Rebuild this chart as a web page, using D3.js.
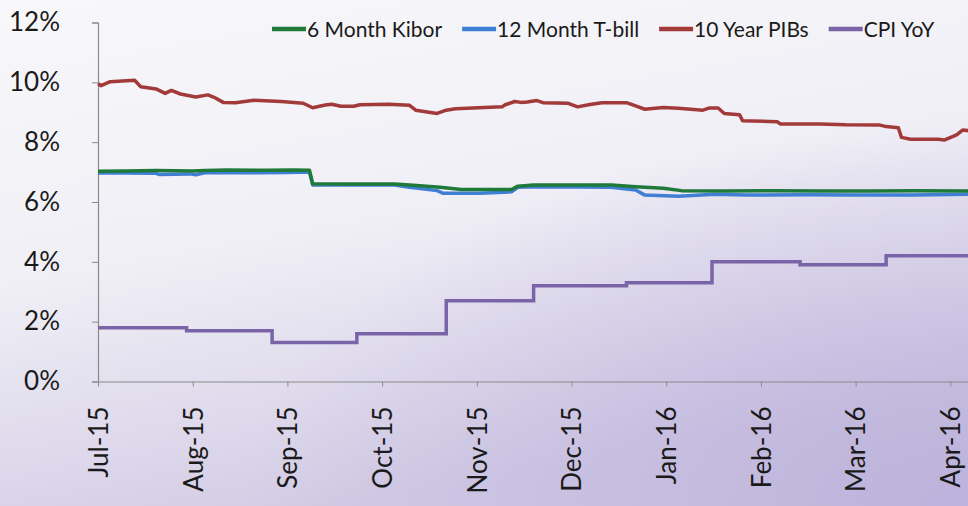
<!DOCTYPE html>
<html>
<head>
<meta charset="utf-8">
<script src="https://cdn.jsdelivr.net/npm/d3@7"></script>
<style>
  html, body { margin: 0; padding: 0; }
  body { width: 968px; height: 506px; overflow: hidden; }
  text { font-family: Lato, "Open Sans", sans-serif; fill: #1a1a1a; }
</style>
</head>
<body>
<div id="chart"></div>
<script>
const monthLabels = ["Jul-15", "Aug-15", "Sep-15", "Oct-15", "Nov-15", "Dec-15", "Jan-16", "Feb-16", "Mar-16", "Apr-16"];
const yTicks = [0, 2, 4, 6, 8, 10, 12];

const seriesNames = ["6 Month Kibor", "12 Month T-bill", "10 Year PIBs", "CPI YoY"];
const seriesColors = ["#1f7a3a", "#3f7fd4", "#a33a3a", "#7a64a8"];

// [date, percent]
const kibor6m = [
  ["2015-07-01", 7.03], ["2015-07-10", 7.04], ["2015-07-20", 7.05], ["2015-08-01", 7.04],
  ["2015-08-05", 7.05], ["2015-08-12", 7.07], ["2015-08-25", 7.06], ["2015-09-03", 7.07],
  ["2015-09-08", 7.06], ["2015-09-09", 6.61], ["2015-09-20", 6.60], ["2015-10-05", 6.60],
  ["2015-10-10", 6.57], ["2015-10-20", 6.49], ["2015-10-27", 6.42], ["2015-11-12", 6.42],
  ["2015-11-14", 6.53], ["2015-11-19", 6.57], ["2015-12-14", 6.57], ["2015-12-22", 6.51],
  ["2015-12-31", 6.46], ["2016-01-06", 6.38], ["2016-01-20", 6.37], ["2016-02-05", 6.38],
  ["2016-02-20", 6.37], ["2016-03-05", 6.37], ["2016-03-20", 6.38], ["2016-04-10", 6.37]
];

const tbill12m = [
  ["2015-07-01", 6.97], ["2015-07-10", 6.97], ["2015-07-20", 6.96], ["2015-07-21", 6.92],
  ["2015-07-31", 6.94], ["2015-08-02", 6.91], ["2015-08-05", 6.98], ["2015-08-20", 6.98],
  ["2015-09-01", 6.99], ["2015-09-08", 7.00], ["2015-09-09", 6.57], ["2015-10-05", 6.57],
  ["2015-10-10", 6.49], ["2015-10-19", 6.38], ["2015-10-21", 6.29], ["2015-11-02", 6.29],
  ["2015-11-12", 6.34], ["2015-11-14", 6.49], ["2015-11-19", 6.51], ["2015-12-14", 6.49],
  ["2015-12-22", 6.40], ["2015-12-25", 6.23], ["2016-01-05", 6.19], ["2016-01-17", 6.26],
  ["2016-01-27", 6.23], ["2016-02-15", 6.24], ["2016-03-01", 6.23], ["2016-03-20", 6.23],
  ["2016-04-10", 6.26]
];

const pib10y = [
  ["2015-07-01", 9.95], ["2015-07-02", 9.89], ["2015-07-05", 10.02], ["2015-07-13", 10.07],
  ["2015-07-15", 9.85], ["2015-07-20", 9.78], ["2015-07-23", 9.63], ["2015-07-25", 9.73],
  ["2015-07-28", 9.61], ["2015-08-02", 9.51], ["2015-08-06", 9.58], ["2015-08-08", 9.50],
  ["2015-08-11", 9.33], ["2015-08-15", 9.32], ["2015-08-21", 9.40], ["2015-08-30", 9.36],
  ["2015-09-06", 9.30], ["2015-09-09", 9.15], ["2015-09-13", 9.24], ["2015-09-15", 9.27],
  ["2015-09-18", 9.20], ["2015-09-22", 9.20], ["2015-09-24", 9.25], ["2015-10-03", 9.27],
  ["2015-10-10", 9.23], ["2015-10-12", 9.07], ["2015-10-19", 8.96], ["2015-10-22", 9.07],
  ["2015-10-25", 9.12], ["2015-11-09", 9.18], ["2015-11-10", 9.25], ["2015-11-13", 9.36],
  ["2015-11-15", 9.33], ["2015-11-17", 9.34], ["2015-11-20", 9.39], ["2015-11-22", 9.32],
  ["2015-11-30", 9.30], ["2015-12-03", 9.18], ["2015-12-07", 9.26], ["2015-12-11", 9.32],
  ["2015-12-19", 9.32], ["2015-12-22", 9.21], ["2015-12-25", 9.10], ["2015-12-31", 9.16],
  ["2016-01-05", 9.13], ["2016-01-13", 9.07], ["2016-01-15", 9.14], ["2016-01-18", 9.14],
  ["2016-01-20", 8.96], ["2016-01-25", 8.92], ["2016-01-26", 8.72], ["2016-02-06", 8.68],
  ["2016-02-07", 8.61], ["2016-02-19", 8.61], ["2016-02-27", 8.58], ["2016-03-09", 8.57],
  ["2016-03-11", 8.52], ["2016-03-15", 8.48], ["2016-03-16", 8.16], ["2016-03-19", 8.10],
  ["2016-03-28", 8.10], ["2016-03-30", 8.07], ["2016-04-03", 8.24], ["2016-04-05", 8.41],
  ["2016-04-07", 8.38]
];

const cpiYoY = [
  ["2015-07-01", 1.8], ["2015-07-30", 1.7], ["2015-08-27", 1.3], ["2015-09-23", 1.6],
  ["2015-10-22", 2.7], ["2015-11-19", 3.2], ["2015-12-19", 3.3], ["2016-01-16", 4.0],
  ["2016-02-13", 3.9], ["2016-03-11", 4.2], ["2016-04-10", 4.2]
];

const width = 968;
const height = 506;

// months are spaced evenly on this axis
function monthPos(s) {
  const d = new Date(s + "T00:00:00");
  const idx = (d.getFullYear() - 2015) * 12 + d.getMonth() - 6;
  const days = new Date(d.getFullYear(), d.getMonth() + 1, 0).getDate();
  return idx + (d.getDate() - 1) / days;
}

const xScale = d3.scaleLinear().domain([0, 10]).range([98, 98 + 947]);
const yScale = d3.scaleLinear().domain([0, 12]).range([381.5, 22.5]);

const svg = d3.select("#chart").append("svg")
  .attr("width", width)
  .attr("height", height);

// background
const defs = svg.append("defs");
const bg = defs.append("linearGradient").attr("id", "bg")
  .attr("x1", 0).attr("y1", 0).attr("x2", 0.35).attr("y2", 1);
bg.append("stop").attr("offset", "0%").attr("stop-color", "#f8f8fa");
bg.append("stop").attr("offset", "50%").attr("stop-color", "#f0eff6");
bg.append("stop").attr("offset", "100%").attr("stop-color", "#d3cce5");
const glow = defs.append("radialGradient").attr("id", "glow")
  .attr("cx", 1).attr("cy", 1).attr("r", 0.75);
glow.append("stop").attr("offset", "0%").attr("stop-color", "#b4a9d8").attr("stop-opacity", 0.75);
glow.append("stop").attr("offset", "100%").attr("stop-color", "#b4a9d8").attr("stop-opacity", 0);

svg.append("rect").attr("width", width).attr("height", height).attr("fill", "url(#bg)");
svg.append("rect").attr("width", width).attr("height", height).attr("fill", "url(#glow)");

// axes
const yAxis = d3.axisLeft(yScale)
  .tickValues(yTicks)
  .tickSize(6)
  .tickPadding(32)
  .tickFormat(d => d + "%");

const gy = svg.append("g")
  .attr("transform", `translate(${xScale(0)},0)`)
  .call(yAxis);
gy.select(".domain").attr("stroke", "#8a8a8a").attr("stroke-width", 1.2);
gy.selectAll(".tick line").attr("stroke", "#8a8a8a");
gy.selectAll(".tick text")
  .style("font-size", "26px")
  .attr("fill", "#1a1a1a");

const xAxis = d3.axisBottom(xScale)
  .tickValues(d3.range(monthLabels.length))
  .tickSize(5)
  .tickSizeOuter(0)
  .tickFormat(i => monthLabels[i]);

const gx = svg.append("g")
  .attr("transform", `translate(0,${yScale(0)})`)
  .call(xAxis);
gx.select(".domain").attr("stroke", "#8a8a8a").attr("stroke-width", 1.2);
gx.selectAll(".tick line").attr("stroke", "#8a8a8a");
gx.selectAll(".tick text")
  .style("font-size", "26px")
  .attr("fill", "#1a1a1a")
  .attr("text-anchor", "end")
  .attr("transform", "rotate(-90)")
  .attr("x", -25)
  .attr("y", 0)
  .attr("dy", "0.36em");

// lines
const line = d3.line()
  .x(d => xScale(monthPos(d[0])))
  .y(d => yScale(d[1]));

const stepLine = d3.line()
  .curve(d3.curveStepAfter)
  .x(d => xScale(monthPos(d[0])))
  .y(d => yScale(d[1]));

const plot = svg.append("g");

plot.append("path").datum(pib10y)
  .attr("d", line).attr("fill", "none")
  .attr("stroke", seriesColors[2]).attr("stroke-width", 3.5).attr("stroke-linejoin", "round");

plot.append("path").datum(tbill12m)
  .attr("d", line).attr("fill", "none")
  .attr("stroke", seriesColors[1]).attr("stroke-width", 3.5).attr("stroke-linejoin", "round");

plot.append("path").datum(kibor6m)
  .attr("d", line).attr("fill", "none")
  .attr("stroke", seriesColors[0]).attr("stroke-width", 3.5).attr("stroke-linejoin", "round");

plot.append("path").datum(cpiYoY)
  .attr("d", stepLine).attr("fill", "none")
  .attr("stroke", seriesColors[3]).attr("stroke-width", 3.5);

// legend
const legend = svg.append("g").attr("transform", "translate(272,29)");
let lx = 0;
seriesNames.forEach((name, i) => {
  const item = legend.append("g").attr("transform", `translate(${lx},0)`);
  item.append("line")
    .attr("x1", 0).attr("x2", 34)
    .attr("stroke", seriesColors[i]).attr("stroke-width", 4.5);
  const t = item.append("text")
    .attr("x", 35)
    .attr("dy", "0.36em")
    .style("font-size", "21px")
    .text(name);
  lx += 35 + t.node().getComputedTextLength() + 20;
});
</script>
</body>
</html>
